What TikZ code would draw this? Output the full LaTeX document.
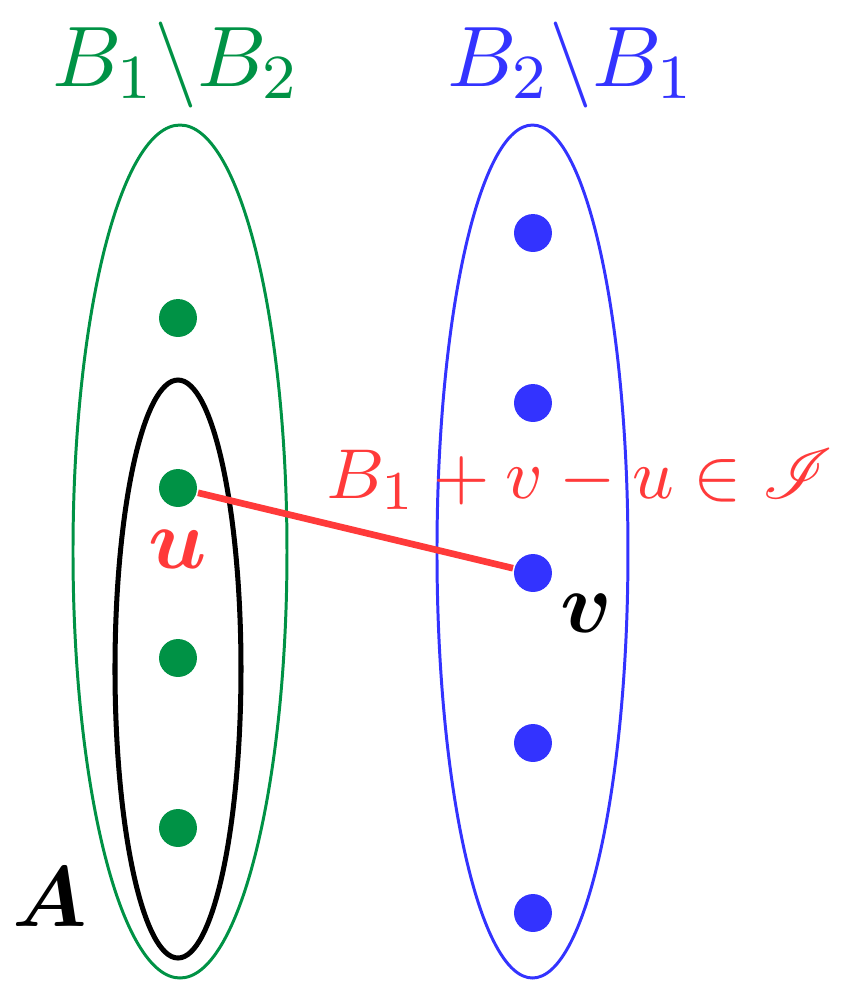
\documentclass[tikz,border=0pt]{standalone}
\usepackage{amsmath,amssymb,mathrsfs}
\usepackage{tikz}
\definecolor{setgreen}{RGB}{0,146,69}
\definecolor{setblue}{RGB}{51,51,255}
\definecolor{swapred}{RGB}{255,58,58}
\begin{document}
\begin{tikzpicture}[x=0.448cm,y=0.448cm,every node/.style={font=\fontsize{11}{13}\selectfont},
  gdot/.style={circle,fill=setgreen,inner sep=0pt,minimum size=0.17cm},
  bdot/.style={circle,fill=setblue,inner sep=0pt,minimum size=0.17cm}]
\useasboundingbox (0,0) rectangle (8.51,-9.82);
\draw[setgreen,line width=0.38pt] (1.80,-5.515) ellipse [x radius=1.07,y radius=4.265]; \draw[setblue,line width=0.38pt] (5.325,-5.515) ellipse [x radius=0.955,y radius=4.265];
\draw[black,line width=0.64pt] (1.78,-6.69) ellipse [x radius=0.63,y radius=2.89];
\node[gdot] (g1) at (1.78,-3.18) {}; \node[gdot] (u) at (1.78,-4.88) {}; \node[gdot] (g3) at (1.78,-6.58) {}; \node[gdot] (g4) at (1.78,-8.28) {};
\node[bdot] (b1) at (5.33,-2.33) {}; \node[bdot] (b2) at (5.33,-4.03) {}; \node[bdot] (v) at (5.33,-5.73) {}; \node[bdot] (b4) at (5.33,-7.43) {}; \node[bdot] (b5) at (5.33,-9.13) {};
\draw[swapred,line width=0.85pt] (u) -- (v);
\node[setgreen,anchor=base] (lgreen) at (1.76,-0.86) {$B_1\backslash B_2$}; \node[setblue,anchor=base] (lblue) at (5.71,-0.86) {$B_2\backslash B_1$};
\node[swapred,anchor=base,font=\fontsize{9.4}{11}\selectfont] (lswap) at (5.80,-4.98) {$B_1+v-u\in\mathscr{I}$};
\node[swapred] (lu) at (1.78,-5.49) {$\boldsymbol{u}$}; \node (lv) at (5.86,-6.13) {$\boldsymbol{v}$}; \node (lA) at (0.50,-8.97) {$\boldsymbol{A}$};
\end{tikzpicture}
\end{document}
